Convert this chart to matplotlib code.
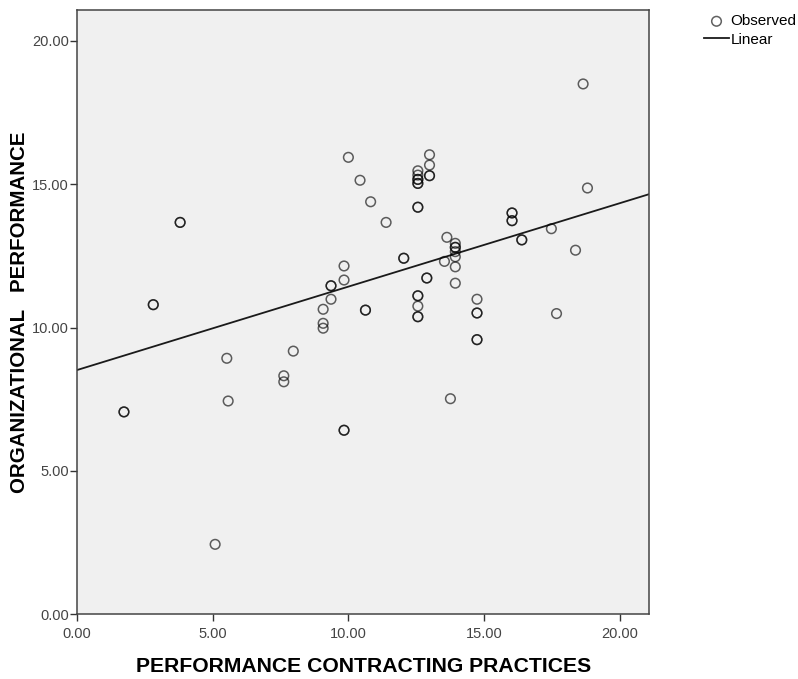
import matplotlib.pyplot as plt
from matplotlib.ticker import FormatStrFormatter

plt.rcParams['font.family'] = ['Liberation Sans', 'DejaVu Sans']

# observed points (repeated entries = overlapping cases, drawn darker)
pc_practices = [
    1.73, 1.73, 2.81, 2.81, 3.80, 3.80, 5.09, 5.52, 5.57, 7.62, 7.62, 7.97,
    9.07, 9.07, 9.07, 9.36, 9.36, 9.36, 9.84, 9.84, 9.84, 9.84,
    10.00, 10.43, 10.63, 10.63, 10.82, 11.39,
    12.04, 12.04, 12.56, 12.56, 12.56, 12.56, 12.56, 12.56, 12.56, 12.56,
    12.56, 12.56, 12.56, 12.56, 12.56,
    12.89, 12.89, 12.99, 12.99, 12.99, 12.99,
    13.54, 13.63, 13.76, 13.94, 13.94, 13.94, 13.94, 13.94, 13.94, 13.94,
    14.74, 14.74, 14.74, 14.74, 14.74,
    16.03, 16.03, 16.03, 16.03, 16.39, 16.39, 17.48, 17.67, 18.37, 18.65, 18.81,
]
org_performance = [
    7.06, 7.06, 10.80, 10.80, 13.67, 13.67, 2.44, 8.93, 7.44, 8.32, 8.11, 9.18,
    10.64, 10.15, 9.98, 11.46, 11.46, 10.99, 12.15, 11.66, 6.42, 6.42,
    15.94, 15.14, 10.61, 10.61, 14.39, 13.67,
    12.42, 12.42, 15.47, 15.32, 15.17, 15.17, 15.03, 15.03, 14.20, 14.20,
    11.11, 11.11, 10.75, 10.38, 10.38,
    11.73, 11.73, 16.03, 15.67, 15.30, 15.30,
    12.31, 13.15, 7.52, 12.94, 12.80, 12.80, 12.65, 12.47, 12.12, 11.55,
    10.99, 10.51, 10.51, 9.58, 9.58,
    14.00, 14.00, 13.73, 13.73, 13.06, 13.06, 13.45, 10.49, 12.70, 18.50, 14.87,
]

# fitted linear line
fit_intercept = 8.52
fit_slope = 0.291
x_max = 21.09
y_max = 21.08
ticks = [0, 5, 10, 15, 20]

fig = plt.figure(figsize=(7.98, 6.79), dpi=100)
ax = fig.add_axes([0.0965, 0.0953, 0.7172, 0.89])
ax.set_facecolor('#f0f0f0')

ax.scatter(pc_practices, org_performance, s=48, facecolors='none',
           edgecolors='black', linewidths=1.1, alpha=0.62, label='Observed', zorder=3)
ax.plot([0, x_max], [fit_intercept, fit_intercept + fit_slope * x_max],
        color='#1a1a1a', lw=1.3, label='Linear', zorder=2)

ax.set_xlim(0, x_max)
ax.set_ylim(0, y_max)
ax.set_xticks(ticks)
ax.set_yticks(ticks)
ax.xaxis.set_major_formatter(FormatStrFormatter('%.2f'))
ax.yaxis.set_major_formatter(FormatStrFormatter('%.2f'))
ax.tick_params(direction='out', length=5, width=1, colors='#333333',
               labelsize=10.5, labelcolor='#444444')
ax.tick_params(axis='x', pad=4)
ax.tick_params(axis='y', pad=1)
for sp in ax.spines.values():
    sp.set_color('#444444')
    sp.set_linewidth(1.1)

fig.text(364 / 798, 1 - 666 / 679, 'PERFORMANCE CONTRACTING PRACTICES',
         ha='center', va='center', fontsize=15.2, fontweight='bold')
fig.text(20 / 798, 1 - 312 / 679, 'ORGANIZATIONAL   PERFORMANCE',
         ha='center', va='center', rotation=90, fontsize=14.8, fontweight='bold')

ax.legend(loc='upper left', bbox_to_anchor=(1.084, 1.003), frameon=False,
          fontsize=11, handlelength=1.7, handletextpad=0.05, labelspacing=0.28,
          borderaxespad=0)

plt.savefig('out.png', dpi=100)
